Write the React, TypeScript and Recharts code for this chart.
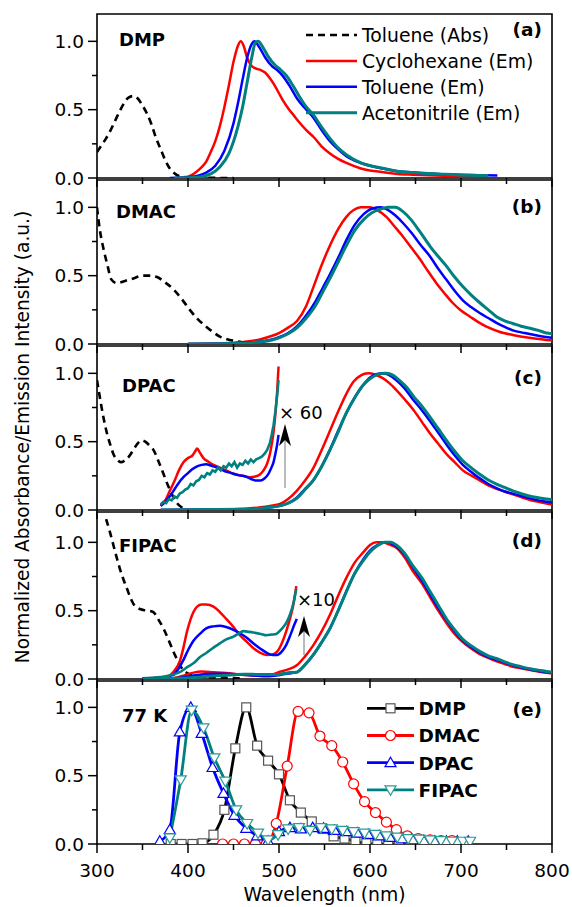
import React from 'react';
import { LineChart, Line, XAxis, YAxis, ReferenceArea, Legend } from 'recharts';

type P = [number, number];

// ---------- Panel (a) DMP ----------
const dmpAbs: P[] = [[300,0.19],[305,0.24],[310,0.29],[315,0.35],[320,0.42],[325,0.49],[330,0.55],[335,0.59],[340,0.60],[345,0.58],[350,0.53],[355,0.47],[360,0.39],[365,0.29],[370,0.21],[375,0.13],[380,0.07],[385,0.035],[390,0.015],[400,0.005],[410,0.002],[450,0]];
const dmpCyc: P[] = [[390,0],[400,0.01],[410,0.05],[415,0.08],[420,0.12],[425,0.19],[430,0.27],[435,0.38],[440,0.52],[445,0.68],[450,0.85],[455,0.97],[458,1.0],[461,0.97],[465,0.88],[470,0.82],[475,0.80],[480,0.79],[485,0.77],[490,0.73],[495,0.68],[500,0.62],[505,0.56],[510,0.51],[516,0.46],[522,0.41],[530,0.35],[538,0.30],[547,0.23],[556,0.18],[565,0.14],[574,0.11],[590,0.07],[611,0.045],[630,0.03],[647,0.024],[680,0.016],[720,0.012]];
const dmpTol: P[] = [[380,0],[400,0.005],[420,0.04],[430,0.09],[440,0.2],[450,0.4],[455,0.55],[460,0.72],[465,0.88],[470,0.98],[473,1.0],[478,0.96],[485,0.88],[492,0.82],[498,0.79],[505,0.74],[512,0.67],[520,0.58],[530,0.50],[538,0.44],[547,0.35],[556,0.27],[565,0.21],[574,0.16],[590,0.11],[611,0.073],[630,0.05],[647,0.04],[680,0.028],[721,0.02],[740,0.018]];
const dmpAcn: P[] = [[385,0],[410,0.005],[425,0.03],[435,0.08],[445,0.18],[455,0.38],[460,0.52],[465,0.70],[470,0.88],[474,0.99],[477,1.0],[482,0.96],[488,0.89],[495,0.83],[502,0.79],[508,0.75],[515,0.68],[522,0.60],[530,0.52],[538,0.46],[547,0.37],[556,0.29],[565,0.22],[574,0.17],[590,0.11],[611,0.075],[630,0.05],[647,0.04],[680,0.028],[710,0.02],[730,0.018]];

// ---------- Panel (b) DMAC ----------
const dmacAbs: P[] = [[300,1.0],[303,0.84],[307,0.7],[311,0.59],[316,0.47],[322,0.445],[330,0.46],[340,0.48],[350,0.50],[358,0.50],[366,0.49],[375,0.45],[384,0.40],[393,0.33],[402,0.25],[411,0.18],[420,0.127],[428,0.085],[435,0.054],[443,0.035],[450,0.024],[458,0.015]];
const dmacCyc: P[] = [[400,0],[440,0.005],[460,0.015],[480,0.035],[490,0.055],[500,0.08],[510,0.12],[520,0.17],[530,0.28],[538,0.42],[547,0.58],[556,0.72],[565,0.84],[574,0.93],[582,0.98],[590,1.0],[600,1.0],[608,0.98],[618,0.93],[627,0.86],[637,0.78],[646,0.70],[655,0.62],[664,0.53],[673,0.445],[682,0.37],[691,0.30],[700,0.245],[710,0.20],[719,0.16],[728,0.127],[742,0.09],[757,0.066],[775,0.045],[794,0.03],[800,0.028]];
const dmacTol: P[] = [[400,0],[450,0.005],[470,0.012],[490,0.03],[500,0.05],[510,0.08],[520,0.13],[530,0.21],[540,0.31],[548,0.41],[556,0.51],[565,0.63],[574,0.76],[583,0.87],[593,0.95],[602,0.99],[612,1.0],[620,0.98],[628,0.94],[637,0.88],[646,0.81],[655,0.73],[666,0.64],[675,0.55],[684,0.47],[693,0.39],[702,0.32],[711,0.27],[721,0.225],[730,0.19],[739,0.155],[748,0.125],[757,0.10],[770,0.08],[785,0.06],[800,0.045]];
const dmacAcn: P[] = [[400,0],[450,0.003],[470,0.01],[490,0.025],[500,0.045],[510,0.075],[520,0.12],[530,0.19],[540,0.28],[548,0.38],[556,0.48],[565,0.60],[574,0.72],[583,0.83],[593,0.91],[602,0.96],[611,0.985],[620,1.0],[628,1.0],[636,0.97],[645,0.91],[655,0.82],[666,0.715],[675,0.64],[684,0.57],[693,0.49],[702,0.42],[711,0.36],[721,0.30],[730,0.25],[739,0.20],[748,0.17],[757,0.15],[766,0.13],[776,0.115],[785,0.10],[794,0.08],[800,0.075]];

// ---------- Panel (c) DPAC ----------
const dpacAbs: P[] = [[300,0.95],[303,0.83],[307,0.68],[311,0.56],[315,0.47],[318,0.41],[322,0.37],[326,0.35],[330,0.36],[335,0.39],[340,0.44],[345,0.49],[349,0.51],[353,0.50],[358,0.47],[362,0.44],[368,0.35],[373,0.265],[378,0.18],[384,0.093],[388,0.05],[393,0.02],[400,0.005]];
const dpacCyc60: P[] = [[370,0.03],[375,0.07],[380,0.14],[385,0.21],[390,0.29],[395,0.35],[400,0.38],[405,0.40],[408,0.43],[410,0.45],[413,0.42],[417,0.38],[422,0.355],[428,0.33],[435,0.31],[442,0.29],[450,0.265],[460,0.25],[468,0.24],[474,0.245],[479,0.26],[483,0.29],[487,0.34],[490,0.41],[492,0.48],[494,0.57],[496,0.70],[498,0.87],[499.5,1.05]];
const dpacTol60: P[] = [[370,0.03],[375,0.06],[380,0.10],[385,0.15],[390,0.20],[395,0.24],[400,0.27],[405,0.30],[410,0.32],[415,0.33],[420,0.335],[425,0.325],[430,0.315],[435,0.30],[440,0.285],[445,0.275],[450,0.265],[455,0.255],[460,0.25],[465,0.24],[470,0.225],[475,0.215],[480,0.215],[484,0.23],[488,0.26],[491,0.30],[494,0.35],[496,0.41],[498,0.48],[499.5,0.55]];
const dpacAcn60: P[] = [[370,0.04],[373,0.06],[376,0.05],[379,0.08],[382,0.07],[385,0.10],[388,0.09],[391,0.12],[394,0.13],[397,0.15],[400,0.16],[403,0.19],[406,0.18],[409,0.21],[412,0.22],[415,0.25],[418,0.24],[421,0.27],[424,0.26],[427,0.29],[430,0.28],[433,0.31],[436,0.29],[439,0.32],[442,0.31],[445,0.34],[448,0.32],[451,0.35],[454,0.31],[457,0.34],[460,0.33],[463,0.36],[466,0.34],[469,0.37],[472,0.35],[475,0.37],[478,0.38],[481,0.39],[484,0.41],[487,0.44],[490,0.49],[492,0.55],[494,0.62],[496,0.72],[498,0.84],[499.5,0.95]];
const dpacCyc: P[] = [[370,0],[450,0.005],[480,0.02],[490,0.03],[501,0.044],[510,0.08],[519.5,0.14],[528,0.21],[538,0.31],[547,0.44],[556,0.58],[565,0.72],[574,0.85],[582,0.94],[590,0.985],[598,1.0],[606,0.99],[614,0.965],[621,0.93],[629,0.877],[638,0.81],[648,0.73],[657,0.645],[666,0.56],[675,0.485],[684,0.41],[693,0.35],[702,0.29],[712,0.25],[721,0.215],[730,0.18],[739,0.155],[748,0.135],[757,0.115],[775,0.075],[785,0.06],[794,0.047],[800,0.04]];
const dpacTol: P[] = [[370,0],[460,0.005],[490,0.02],[501,0.03],[510,0.05],[519.5,0.09],[528,0.15],[538,0.22],[547,0.32],[556,0.44],[565,0.58],[574,0.71],[583,0.82],[592,0.91],[600,0.97],[608,0.995],[613,1.0],[620,0.99],[629,0.95],[638,0.89],[647,0.81],[657,0.73],[666,0.65],[675,0.565],[684,0.48],[693,0.40],[702,0.33],[712,0.275],[721,0.23],[730,0.19],[739,0.16],[748,0.135],[757,0.12],[776,0.085],[794,0.06],[800,0.055]];
const dpacAcn: P[] = [[370,0],[460,0.005],[490,0.02],[501,0.03],[510,0.05],[519.5,0.085],[528,0.145],[538,0.22],[547,0.32],[556,0.44],[565,0.57],[574,0.71],[583,0.82],[592,0.91],[600,0.96],[608,0.99],[617,1.0],[624,0.99],[632,0.95],[640,0.90],[648,0.83],[657,0.76],[666,0.68],[675,0.595],[684,0.51],[693,0.43],[702,0.36],[712,0.305],[721,0.26],[730,0.22],[739,0.19],[748,0.165],[757,0.14],[766,0.12],[776,0.10],[785,0.09],[794,0.08],[800,0.075]];

// ---------- Panel (d) FIPAC ----------
const fipacAbs: P[] = [[310,1.17],[314,1.08],[318,0.98],[322,0.88],[325,0.81],[329,0.73],[333,0.66],[337,0.59],[340,0.55],[345,0.52],[351,0.505],[357,0.50],[362,0.49],[367,0.44],[373,0.37],[379,0.28],[384,0.20],[389,0.13],[393,0.08],[400,0.04],[410,0.02],[420,0.015],[440,0.01],[460,0.005]];
const fipacCyc10: P[] = [[350,0.005],[365,0.01],[377,0.017],[385,0.06],[391,0.13],[395,0.23],[399,0.35],[403,0.44],[406,0.49],[410,0.53],[415,0.545],[420,0.545],[428,0.53],[435,0.49],[442,0.44],[450,0.38],[457,0.32],[465,0.27],[472,0.225],[480,0.19],[487,0.175],[493,0.18],[498,0.20],[503,0.26],[508,0.35],[512,0.44],[516,0.55],[519,0.68]];
const fipacTol10: P[] = [[350,0.005],[370,0.01],[384,0.03],[390,0.08],[395,0.14],[400,0.21],[406,0.28],[413,0.33],[420,0.37],[428,0.385],[435,0.39],[442,0.38],[450,0.36],[457,0.335],[465,0.30],[472,0.26],[480,0.22],[487,0.19],[493,0.175],[498,0.175],[503,0.20],[508,0.25],[513,0.33],[517,0.40],[519.5,0.44]];
const fipacAcn10: P[] = [[350,0.005],[370,0.015],[380,0.025],[391,0.05],[400,0.09],[407,0.12],[413,0.16],[420,0.19],[428,0.23],[435,0.26],[442,0.29],[450,0.31],[455,0.33],[461,0.35],[467,0.345],[472,0.34],[480,0.33],[486,0.32],[492,0.325],[497,0.33],[502,0.36],[508,0.41],[512,0.47],[516,0.56],[519,0.66]];
const fipacCyc: P[] = [[350,0.001],[380,0.003],[395,0.025],[405,0.045],[415,0.055],[428,0.05],[442,0.044],[457,0.032],[472,0.025],[487,0.025],[501,0.053],[510,0.07],[519.5,0.10],[528,0.16],[538,0.25],[547,0.35],[556,0.47],[565,0.61],[574,0.74],[583,0.85],[593,0.93],[600,0.98],[607,1.0],[614,1.0],[621,0.985],[629,0.96],[638,0.89],[647,0.79],[657,0.70],[666,0.60],[675,0.50],[684,0.41],[693,0.33],[702,0.27],[712,0.22],[721,0.18],[730,0.155],[739,0.13],[748,0.11],[757,0.09],[766,0.078],[776,0.065],[785,0.055],[794,0.045],[800,0.04]];
const fipacTol: P[] = [[350,0.001],[390,0.008],[410,0.03],[428,0.038],[442,0.038],[457,0.033],[472,0.026],[487,0.02],[501,0.03],[510,0.04],[519.5,0.05],[528,0.10],[538,0.18],[547,0.27],[556,0.37],[565,0.50],[574,0.64],[583,0.77],[593,0.88],[600,0.94],[608,0.98],[616,1.0],[622,0.995],[629,0.97],[638,0.91],[647,0.82],[657,0.72],[666,0.62],[675,0.52],[684,0.43],[693,0.35],[702,0.28],[712,0.23],[721,0.19],[730,0.16],[739,0.14],[748,0.12],[757,0.10],[776,0.07],[794,0.05],[800,0.045]];
const fipacAcn: P[] = [[350,0.001],[400,0.008],[430,0.023],[450,0.031],[461,0.035],[480,0.033],[497,0.033],[505,0.04],[512,0.047],[519.5,0.05],[528,0.10],[538,0.18],[547,0.27],[556,0.37],[565,0.50],[574,0.64],[583,0.77],[593,0.87],[600,0.93],[608,0.975],[616,1.0],[623,1.0],[629,0.98],[638,0.92],[647,0.83],[657,0.74],[666,0.64],[675,0.54],[684,0.44],[693,0.36],[702,0.29],[712,0.24],[721,0.20],[730,0.17],[739,0.15],[748,0.125],[757,0.105],[766,0.09],[776,0.075],[785,0.065],[794,0.055],[800,0.05]];

// ---------- Panel (e) 77 K ----------
const k77Dmp: P[] = [[381,0],[393,0],[405,0],[416,0.005],[428,0.068],[440,0.25],[452,0.70],[464,1.0],[476,0.72],[488,0.61],[500,0.51],[512,0.32],[524,0.23],[536,0.165],[548,0.11],[560,0.056],[572,0.04],[584,0.02],[596,0.005],[608,0],[620,0],[632,0],[644,0],[656,0],[668,0],[680,0],[692,0],[704,0]];
const k77Dmac: P[] = [[438,0],[450,0],[462,0],[474,0],[486,0],[497,0.15],[509,0.57],[521,0.97],[533,0.96],[545,0.79],[558,0.72],[570,0.60],[582,0.44],[594,0.31],[606,0.23],[618,0.16],[629,0.105],[641,0.06],[653,0.04],[666,0.03],[678,0.025],[690,0.025]];
const k77Dpac: P[] = [[369,0.02],[380,0.105],[391,0.82],[403,1.0],[415,0.81],[427,0.56],[439,0.37],[451,0.21],[464,0.115],[476,0.06],[488,0.02],[500,0.09],[512,0.12],[524,0.11],[537,0.12],[549,0.115],[561,0.10],[574,0.09],[586,0.08],[598,0.07],[610,0.06],[622,0.048],[635,0.038],[647,0.03],[659,0.025],[671,0.02],[684,0.02],[696,0.02],[708,0.02]];
const k77Fipac: P[] = [[380,0.045],[392,0.47],[404,0.98],[417,0.85],[429,0.63],[441,0.46],[453,0.25],[465,0.15],[477,0.08],[488,0.03],[499,0.068],[510,0.11],[522,0.12],[534,0.10],[546,0.12],[558,0.11],[570,0.10],[582,0.09],[594,0.08],[606,0.07],[618,0.06],[630,0.05],[642,0.04],[654,0.035],[666,0.03],[678,0.025],[690,0.02],[702,0.02],[710,0.02]];

// ---------- axes / labels ----------
const xTicks = [300, 350, 400, 450, 500, 550, 600, 650, 700, 750, 800];
const yTicks = [0, 0.25, 0.5, 0.75, 1.0];
const panelNames = ['DMP', 'DMAC', 'DPAC', 'FIPAC', '77 K'];
const panelTags = ['(a)', '(b)', '(c)', '(d)', '(e)'];
const legendANames = ['Toluene (Abs)', 'Cyclohexane (Em)', 'Toluene (Em)', 'Acetonitrile (Em)'];
const legendENames = ['DMP', 'DMAC', 'DPAC', 'FIPAC'];
const xTitle = 'Wavelength (nm)';
const yTitle = 'Normalized Absorbance/Emission Intensity (a.u.)';

// layout
const panelTop = [14, 180, 346, 512, 681];
const panelH = [164, 164, 164, 167, 163];
const yTop = [1.2, 1.2, 1.2, 1.222, 1.193];

const FONT = '"DejaVu Sans", sans-serif';
const RED = '#ff0000';
const BLUE = '#0000ff';
const TEAL = '#008080';

const rows = (pts: P[]) => pts.map(([x, y]) => ({ x, y }));

const XTick = (props: any) => {
  const { x, y, payload, showLabel } = props;
  const major = payload.value % 100 === 0;
  return (
    <g>
      <line x1={x} x2={x} y1={y} y2={y + (major ? 9 : 6)} stroke="#000" strokeWidth={1.5} />
      {showLabel && major ? (
        <text x={x} y={y + 33} textAnchor="middle" fontSize={18.5} fontFamily={FONT} fill="#000">{payload.value}</text>
      ) : null}
    </g>
  );
};

const YTick = (props: any) => {
  const { x, y, payload } = props;
  const v = payload.value;
  const major = Math.abs(v * 2 - Math.round(v * 2)) < 1e-6;
  return (
    <g>
      <line x1={x} x2={x - (major ? 9 : 5)} y1={y} y2={y} stroke="#000" strokeWidth={1.5} />
      {major ? (
        <text x={x - 13} y={y + 6.5} textAnchor="end" fontSize={18.5} fontFamily={FONT} fill="#000">{v.toFixed(1)}</text>
      ) : null}
    </g>
  );
};

const marker = (kind: string, cx: number, cy: number, stroke: string, key: any) => {
  if (cx == null || cy == null) return <g key={key} />;
  if (kind === 'square') return <rect key={key} x={cx - 4.5} y={cy - 4.5} width={9} height={9} fill="#fff" stroke={stroke} strokeWidth={1.2} />;
  if (kind === 'circle') return <circle key={key} cx={cx} cy={cy} r={5} fill="#fff" stroke={stroke} strokeWidth={1.2} />;
  if (kind === 'up') return <polygon key={key} points={`${cx},${cy - 5.5} ${cx + 5.5},${cy + 4} ${cx - 5.5},${cy + 4}`} fill="#fff" stroke={stroke} strokeWidth={1.2} />;
  return <polygon key={key} points={`${cx - 5.5},${cy - 4} ${cx + 5.5},${cy - 4} ${cx},${cy + 5.5}`} fill="#fff" stroke={stroke} strokeWidth={1.2} />;
};

const emLine = (key: string, pts: P[], color: string, width: number, dashed = false, type: any = 'monotone') => (
  <Line key={key} data={rows(pts)} dataKey="y" type={type} stroke={color} strokeWidth={width}
    strokeDasharray={dashed ? '7 5' : undefined} dot={false} activeDot={false} isAnimationActive={false} />
);

const mkLine = (key: string, pts: P[], color: string, kind: string, mStroke: string) => (
  <Line key={key} data={rows(pts)} dataKey="y" type="monotone" stroke={color} strokeWidth={2.8}
    dot={(p: any) => marker(kind, p.cx, p.cy, mStroke, key + p.index)} activeDot={false} isAnimationActive={false} />
);

const legendA = (divTop: number) => (
  <Legend key="lg" layout="vertical" align="center" verticalAlign="middle"
    wrapperStyle={{ left: 300, top: 20 - divTop, width: 250, height: 110 }}
    content={() => (
      <svg width={250} height={110} style={{ display: 'block' }}>
        {legendANames.map((n, i) => {
          const cy = 15 + i * 25.9;
          const col = [ '#000', RED, BLUE, TEAL ][i];
          return (
            <g key={n}>
              <line x1={6} x2={57} y1={cy} y2={cy} stroke={col} strokeWidth={i === 3 ? 3 : 2.5} strokeDasharray={i === 0 ? '7 5' : undefined} />
              <text x={62} y={cy + 6.8} fontSize={18.8} fontFamily={FONT} fill="#000">{n}</text>
            </g>
          );
        })}
      </svg>
    )} />
);

const legendE = (divTop: number) => (
  <Legend key="lg" layout="vertical" align="center" verticalAlign="middle"
    wrapperStyle={{ left: 360, top: 690 - divTop, width: 150, height: 115 }}
    content={() => (
      <svg width={150} height={115} style={{ display: 'block' }}>
        {legendENames.map((n, i) => {
          const cy = 18.3 + i * 27.2;
          const col = ['#000', RED, BLUE, TEAL][i];
          const ms = ['#555', RED, BLUE, '#2a9d94'][i];
          const kind = ['square', 'circle', 'up', 'down'][i];
          return (
            <g key={n}>
              <line x1={7} x2={54} y1={cy} y2={cy} stroke={col} strokeWidth={2.8} />
              {marker(kind, 30.5, cy, ms, 'm' + i)}
              <text x={58.5} y={cy + 6.8} fontSize={18.5} fontWeight="bold" fontFamily={FONT} fill="#000">{n}</text>
            </g>
          );
        })}
      </svg>
    )} />
);

function Panel({ idx, children, last }: { idx: number; children: any; last?: boolean }) {
  const mTop = 4;
  const axisH = last ? 64 : 12;
  const height = panelH[idx] + mTop + axisH;
  const ymax = yTop[idx];
  return (
    <div style={{ position: 'absolute', left: 0, top: panelTop[idx] - mTop }}>
      <LineChart width={572} height={height} margin={{ top: mTop, right: 20, bottom: 0, left: 37 }}>
        <XAxis type="number" dataKey="x" domain={[300, 800]} ticks={xTicks} interval={0} allowDataOverflow
          axisLine={false} tickLine={false} tickSize={0} tickMargin={0} height={axisH}
          tick={(p: any) => <XTick {...p} showLabel={!!last} />} />
        <YAxis type="number" domain={[0, ymax]} ticks={yTicks} interval={0} allowDataOverflow
          axisLine={false} tickLine={false} tickSize={0} tickMargin={0} width={60}
          tick={(p: any) => <YTick {...p} />} />
        {children}
        <ReferenceArea x1={300} x2={800} y1={0} y2={ymax} fill="none" fillOpacity={0} stroke="#000" strokeWidth={1.6} />
      </LineChart>
    </div>
  );
}

export default function App() {
  const nameX = [119, 116, 122, 119, 122];
  const nameY = [45.7, 218, 391.5, 551.5, 721.5];
  const tagY = [35.5, 213, 383.5, 547, 716];
  return (
    <div style={{ position: 'absolute', left: 0, top: 0, width: 572, height: 907, background: '#fff', fontFamily: FONT }}>
      <Panel idx={0}>
        {[
          emLine('a0', dmpAbs, '#000', 2.6, true),
          emLine('a1', dmpCyc, RED, 2.5),
          emLine('a2', dmpTol, BLUE, 2.5),
          emLine('a3', dmpAcn, TEAL, 3),
          legendA(panelTop[0] - 4),
        ]}
      </Panel>
      <Panel idx={1}>
        {[
          emLine('b0', dmacAbs, '#000', 2.6, true),
          emLine('b1', dmacCyc, RED, 2.5),
          emLine('b2', dmacTol, BLUE, 2.5),
          emLine('b3', dmacAcn, TEAL, 3),
        ]}
      </Panel>
      <Panel idx={2}>
        {[
          emLine('c0', dpacAbs, '#000', 2.6, true),
          emLine('c1', dpacCyc60, RED, 2.5),
          emLine('c2', dpacTol60, BLUE, 2.5),
          emLine('c3', dpacAcn60, TEAL, 2.6, false, 'linear'),
          emLine('c4', dpacCyc, RED, 2.5),
          emLine('c5', dpacTol, BLUE, 2.5),
          emLine('c6', dpacAcn, TEAL, 3),
        ]}
      </Panel>
      <Panel idx={3}>
        {[
          emLine('d0', fipacAbs, '#000', 2.6, true),
          emLine('d1', fipacCyc10, RED, 2.5),
          emLine('d2', fipacTol10, BLUE, 2.5),
          emLine('d3', fipacAcn10, TEAL, 2.6),
          emLine('d4', fipacCyc, RED, 2.5),
          emLine('d5', fipacTol, BLUE, 2.5),
          emLine('d6', fipacAcn, TEAL, 3),
        ]}
      </Panel>
      <Panel idx={4} last>
        {[
          mkLine('e0', k77Dmp, '#000', 'square', '#555'),
          mkLine('e1', k77Dmac, RED, 'circle', RED),
          mkLine('e2', k77Dpac, BLUE, 'up', BLUE),
          mkLine('e3', k77Fipac, TEAL, 'down', '#2a9d94'),
          legendE(panelTop[4] - 4),
        ]}
      </Panel>
      <svg width={572} height={907} style={{ position: 'absolute', left: 0, top: 0, pointerEvents: 'none' }}>
        {panelNames.map((n, i) => (
          <text key={n} x={nameX[i]} y={nameY[i]} fontSize={18} fontWeight="bold" fontFamily={FONT} fill="#000">{n}</text>
        ))}
        {panelTags.map((t, i) => (
          <text key={t} x={542} y={tagY[i]} textAnchor="end" fontSize={18.5} fontWeight="bold" fontFamily={FONT} fill="#000">{t}</text>
        ))}
        <text x={279} y={419} fontSize={18} fontFamily={FONT} fill="#000">× 60</text>
        <line x1={285} x2={285} y1={432} y2={488} stroke="#777" strokeWidth={1} />
        <polygon points="285,424 291,446 285,440 279,446" fill="#000" />
        <text x={297} y={606} fontSize={18} fontFamily={FONT} fill="#000">×10</text>
        <line x1={304} x2={304} y1={625} y2={655} stroke="#777" strokeWidth={1} />
        <polygon points="304,616 310,637 304,631 298,637" fill="#000" />
        <text x={324.5} y={901} textAnchor="middle" fontSize={18.8} fontFamily={FONT} fill="#000">{xTitle}</text>
        <text x={29} y={437} transform="rotate(-90 29 437)" textAnchor="middle" fontSize={18.6} fontFamily={FONT} fill="#000">{yTitle}</text>
      </svg>
    </div>
  );
}
